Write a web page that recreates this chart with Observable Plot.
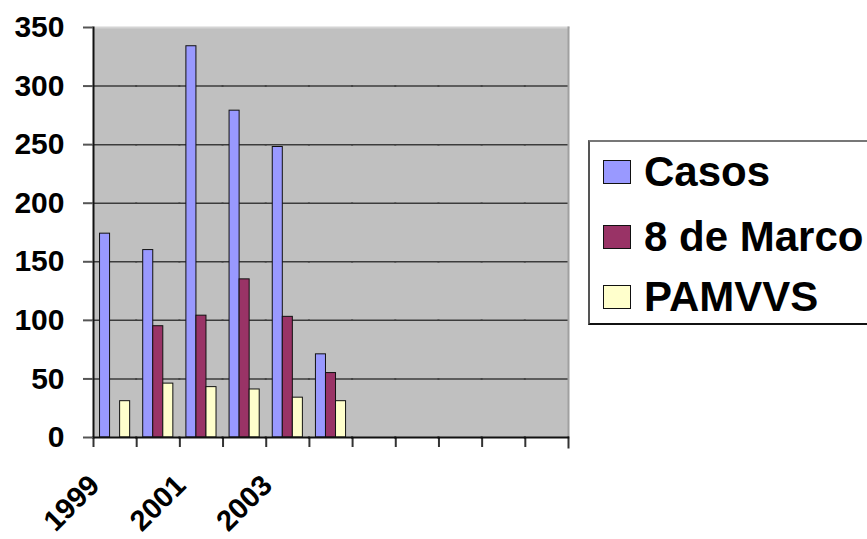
<!DOCTYPE html>
<html>
<head>
<meta charset="utf-8">
<script src="https://cdn.jsdelivr.net/npm/d3@7"></script>
<script src="https://cdn.jsdelivr.net/npm/@observablehq/plot@0.6"></script>
<style>
  html, body { margin: 0; padding: 0; background: #fff; }
  body { width: 867px; height: 539px; position: relative; overflow: hidden; font-family: "Liberation Sans", Arial, sans-serif; }
  #chart { position: absolute; left: 0; top: 0; }
  #legend { position: absolute; left: 588px; top: 140px; width: 300px; height: 181px;
    border-left: 2px solid #555; border-top: 2px solid #777; border-bottom: 2px solid #111; background: #fff; }
  .row { position: absolute; left: 13px; height: 50px; display: flex; align-items: center; }
  .sw { width: 26px; height: 22px; border: 1.5px solid #111; margin-right: 13px; }
  .lab { font-size: 42px; font-weight: bold; color: #000; white-space: nowrap; }
</style>
</head>
<body>
<div id="chart"></div>
<div id="legend"></div>
<script>
const years = ["1999","2000","2001","2002","2003","2004","2005","2006","2007","2008","2009"];
const tickLabels = ["1999","","2001","","2003","","","","","",""];
const series = ["Casos","8 de Marco","PAMVVS"];
const colors = ["#9999ff","#993366","#ffffcc"];
const dataYears = ["1999","2000","2001","2002","2003","2004"];
const casos = [174, 160, 334, 279, 248, 71];
const marco = [null, 95, 104, 135, 103, 55];
const pamvvs = [31, 46, 43, 41, 34, 31];
const yTicks = [0, 50, 100, 150, 200, 250, 300, 350];

const rows = [];
[casos, marco, pamvvs].forEach((vals, si) => {
  vals.forEach((v, i) => { if (v != null) rows.push({year: dataYears[i], series: series[si], value: v}); });
});
const labelRows = years.map((y, i) => ({year: y, label: tickLabels[i]}));

const W = 585, H = 539, mL = 93, mR = 17, mT = 27, mB = 102;
const plotH = H - mT - mB;
const bandW = (W - mL - mR) / years.length;
const font = "'Liberation Sans', Arial, sans-serif";

const chart = Plot.plot({
  width: W, height: H,
  marginLeft: mL, marginRight: mR, marginTop: mT, marginBottom: mB,
  style: {fontFamily: font, background: "transparent", overflow: "visible"},
  fx: {domain: years, padding: 0, axis: null, label: null, round: false},
  x: {domain: series, paddingInner: 0, paddingOuter: 0.65, axis: null, round: false},
  y: {domain: [0, 350], axis: null},
  color: {domain: series, range: colors},
  marks: [
    Plot.frame({fill: "#c0c0c0", stroke: null, facet: "super"}),
    Plot.frame({anchor: "top", stroke: "#d4d4d4", strokeWidth: 2, facet: "super"}),
    Plot.gridY(yTicks.filter(d => d > 0 && d < 350), {stroke: "#3c3c3c", strokeOpacity: 1, strokeWidth: 1.5, insetLeft: -1, insetRight: -1}),
    Plot.barY(rows, {fx: "year", x: "series", y: "value", fill: "series", stroke: "#111", strokeWidth: 1}),
    Plot.frame({anchor: "left", stroke: "#111", strokeWidth: 2, facet: "super"}),
    Plot.frame({anchor: "right", stroke: "#a0a0a0", strokeWidth: 2, facet: "super"}),
    Plot.axisFx({anchor: "bottom", tickSize: 10, tickFormat: () => "", dx: -bandW / 2, stroke: "#333", strokeWidth: 2, label: null}),
    Plot.frame({anchor: "right", insetTop: plotH, insetBottom: -10, stroke: "#333", strokeWidth: 2, facet: "super"}),
    Plot.ruleY([0], {stroke: "#111", strokeWidth: 2, insetLeft: -1, insetRight: -1}),
    Plot.axisY({ticks: yTicks, tickSize: 10, tickPadding: 19, stroke: "#555", strokeWidth: 2,
      fontSize: 30, fontWeight: "bold", fill: "#000", label: null, tickFormat: d => String(d)}),
    Plot.text(labelRows, {fx: "year", text: "label", frameAnchor: "bottom-left", rotate: -45,
      textAnchor: "end", lineAnchor: "top", dx: -7, dy: 35, fontSize: 29, fontWeight: "bold", fill: "#000"})
  ]
});
document.getElementById("chart").appendChild(chart);

const legend = document.getElementById("legend");
const centers = [30, 95, 155];
series.forEach((s, i) => {
  const row = document.createElement("div");
  row.className = "row";
  row.style.top = (centers[i] - 25) + "px";
  const sw = document.createElement("div");
  sw.className = "sw";
  sw.style.background = colors[i];
  const lab = document.createElement("span");
  lab.className = "lab";
  lab.textContent = s;
  row.appendChild(sw); row.appendChild(lab);
  legend.appendChild(row);
});
</script>
</body>
</html>
